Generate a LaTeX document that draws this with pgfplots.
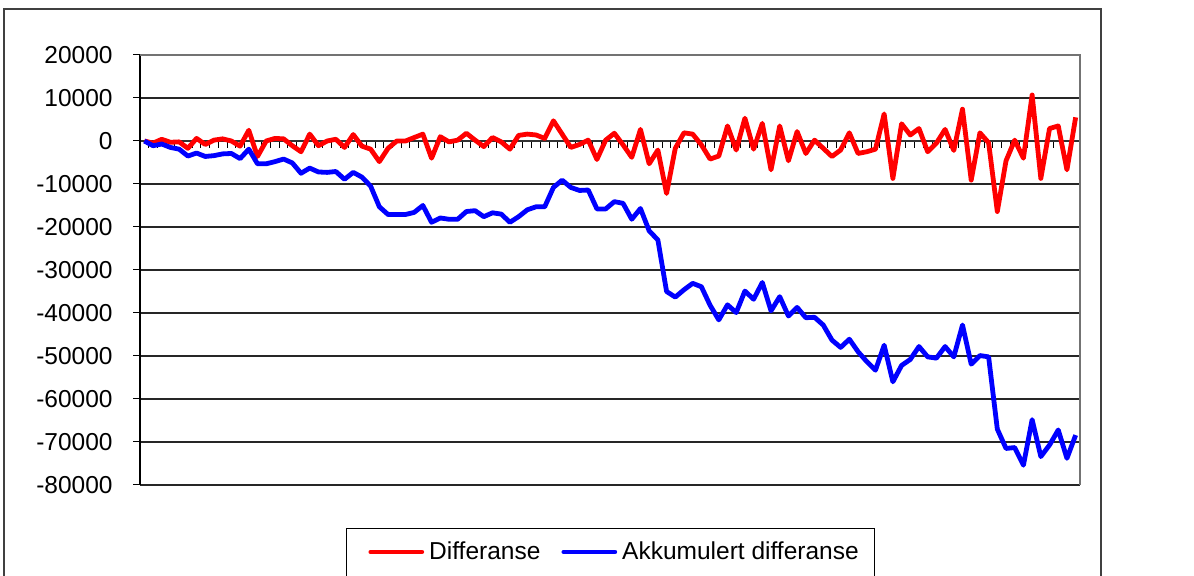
\documentclass[border=0pt]{standalone}
\usepackage{fontspec}
\setmainfont{Liberation Sans}
\usepackage{pgfplots}
\usepackage{pgfplotstable}
\pgfplotsset{compat=1.18}
\pgfplotstableread{
i d a
0 0 0
1 -500 -1100
2 400 -700
3 -300 -1500
4 -200 -1900
5 -1700 -3500
6 600 -2800
7 -800 -3600
8 200 -3400
9 500 -3000
10 0 -2900
11 -1200 -4100
12 2500 -1900
13 -3600 -5300
14 0 -5300
15 600 -4800
16 500 -4200
17 -1100 -5100
18 -2500 -7500
19 1600 -6300
20 -1100 -7200
21 0 -7300
22 400 -7100
23 -1500 -8900
24 1500 -7300
25 -1200 -8400
26 -1900 -10500
27 -4800 -15300
28 -1700 -17100
29 0 -17100
30 0 -17100
31 800 -16600
32 1600 -15000
33 -4000 -18900
34 1000 -17900
35 -200 -18200
36 200 -18200
37 1800 -16400
38 200 -16200
39 -1300 -17600
40 800 -16700
41 -200 -17000
42 -1900 -18900
43 1300 -17600
44 1600 -16000
45 1400 -15300
46 600 -15300
47 4700 -10800
48 1600 -9100
49 -1500 -10800
50 -800 -11500
51 200 -11400
52 -4300 -15800
53 200 -15800
54 1800 -14100
55 -900 -14500
56 -3800 -18200
57 2700 -15700
58 -5300 -20900
59 -2100 -23000
60 -12200 -35000
61 -1700 -36300
62 1900 -34600
63 1600 -33100
64 -900 -33900
65 -4200 -38200
66 -3500 -41600
67 3500 -38100
68 -2100 -39900
69 5300 -34900
70 -1900 -36800
71 4100 -32900
72 -6700 -39500
73 3500 -36200
74 -4600 -40700
75 2200 -38700
76 -2900 -41100
77 200 -41000
78 -1700 -42800
79 -3600 -46300
80 -2100 -48000
81 1900 -46100
82 -2900 -49000
83 -2500 -51300
84 -1900 -53300
85 6300 -47500
86 -8700 -56000
87 4000 -52200
88 1400 -50800
89 2900 -47800
90 -2500 -50200
91 -500 -50500
92 2700 -47800
93 -2200 -50200
94 7400 -42800
95 -9100 -51900
96 1900 -49900
97 -400 -50200
98 -16400 -67000
99 -4600 -71500
100 200 -71300
101 -4000 -75400
102 10700 -64800
103 -8700 -73400
104 2900 -70700
105 3500 -67200
106 -6700 -73800
107 5500 -68400
}\datatable
\begin{document}
\begin{tikzpicture}
\path[use as bounding box] (0pt,0pt) rectangle (597pt,-288pt);
\draw[black!75, line width=0.6pt] (2pt,-4.5pt) rectangle (550.5pt,-300pt);
\begin{axis}[
  scale only axis, width=470pt, height=215pt,
  at={(70pt,-242.5pt)}, anchor=south west,
  xmin=-0.5, xmax=107.5, ymin=-80000, ymax=20000,
  axis x line*=middle, axis y line*=left,
  x axis line style={black!80, line width=0.6pt},
  y axis line style={black, line width=0.8pt},
  xtick={-0.5,0.5,...,107.5}, xticklabels={},
  ytick={-80000,-70000,-60000,-50000,-40000,-30000,-20000,-10000,0,10000,20000},
  yticklabels={-80000,-70000,-60000,-50000,-40000,-30000,-20000,-10000,0,10000,20000},
  scaled y ticks=false,
  tick align=outside, major tick length=3.5pt,
  tick style={black, line width=0.5pt},
  ymajorgrids, grid style={black!85, line width=0.6pt},
  yticklabel style={font=\fontsize{12.25}{14}\selectfont, anchor=east, inner sep=0pt, xshift=-10pt},
  legend style={draw=none, fill=none, inner sep=0pt, at={(0.24255,-0.15581)}, anchor=west,
    font=\fontsize{12.25}{14}\selectfont, nodes={inner sep=0pt},
    /tikz/every odd column/.append style={column sep=2.5pt},
    /tikz/every even column/.append style={column sep=10.5pt}},
  legend columns=2,
  legend image code/.code={\draw[#1, line width=2.4pt, line cap=round] (1pt,0pt) -- (26.5pt,0pt);},
  clip=false,
]
\addplot[red, line width=2.4pt, line join=round, no marks] table[x=i, y=d] {\datatable};
\addlegendentry{Differanse}
\addplot[blue, line width=2.4pt, line join=round, no marks] table[x=i, y=a] {\datatable};
\addlegendentry{Akkumulert differanse}
\draw[black!55, line width=0.75pt] (rel axis cs:0,1) -- (rel axis cs:1,1) -- (rel axis cs:1,0);
\end{axis}
\draw[black, line width=0.5pt] (173pt,-264.5pt) rectangle (437pt,-290pt);
\end{tikzpicture}
\end{document}
